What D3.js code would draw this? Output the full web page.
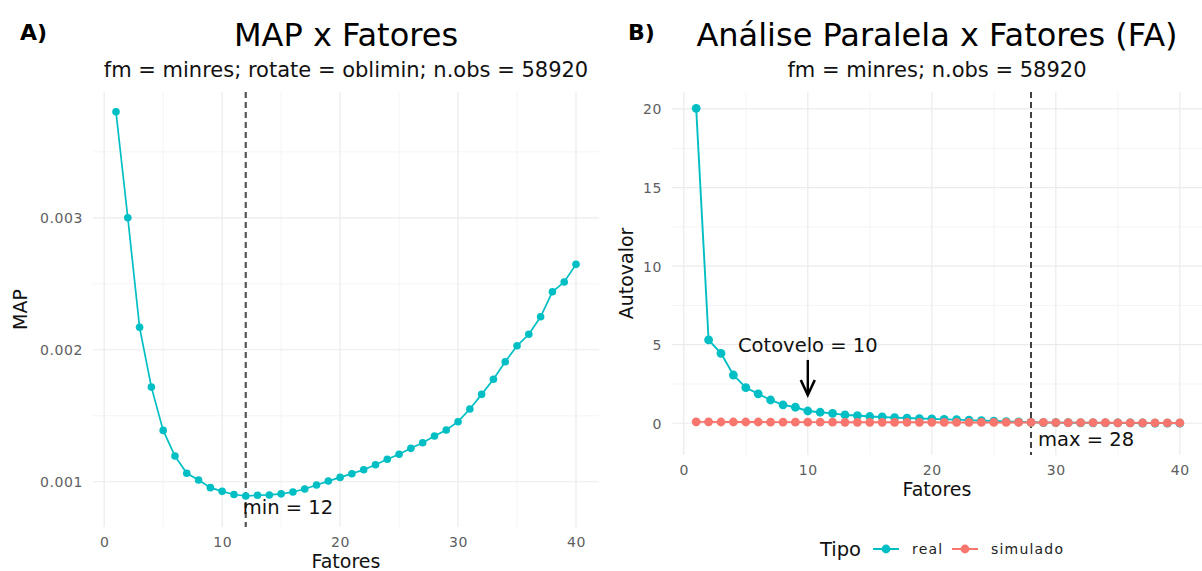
<!DOCTYPE html>
<html><head><meta charset="utf-8">
<script src="https://cdn.jsdelivr.net/npm/d3@7"></script>
<style>
body{margin:0;background:#fff;}
svg{display:block;font-family:"DejaVu Sans",sans-serif;}
</style></head>
<body><svg id="c" width="1202" height="571"></svg>
<script>
// ---------- DATA ----------
const fatores = d3.range(1, 41);
const mapValues = [0.003803,0.003000,0.002170,0.001717,0.001389,0.001195,0.001064,0.001013,0.000955,0.000927,
  0.000903,0.000892,0.000898,0.000900,0.000908,0.000922,0.000945,0.000975,0.001005,0.001033,
  0.001061,0.001091,0.001129,0.001170,0.001208,0.001253,0.001295,0.001346,0.001392,0.001455,
  0.001551,0.001662,0.001776,0.001909,0.002030,0.002117,0.002250,0.002439,0.002513,0.002647];
const realEigen = [20.04,5.30,4.45,3.07,2.27,1.87,1.48,1.17,1.02,0.78,
  0.70,0.63,0.53,0.49,0.43,0.40,0.36,0.33,0.30,0.28,
  0.25,0.23,0.20,0.17,0.14,0.11,0.09,0.06,0.045,0.04,
  0.035,0.03,0.03,0.025,0.02,0.02,0.015,0.01,0.01,0.005];
const simEigen = [0.09,0.09,0.08,0.08,0.08,0.08,0.07,0.07,0.07,0.07,
  0.07,0.07,0.06,0.06,0.06,0.06,0.06,0.06,0.06,0.06,
  0.05,0.05,0.05,0.05,0.05,0.05,0.05,0.05,0.05,0.045,
  0.04,0.04,0.035,0.035,0.03,0.03,0.025,0.025,0.02,0.02];
const xTicks = [0,10,20,30,40];
const xMinor = [5,15,25,35];
const mapTicks = [0.001,0.002,0.003];
const mapMinor = [0.0015,0.0025,0.0035];
const eigTicks = [0,5,10,15,20];
const eigMinor = [2.5,7.5,12.5,17.5];
const minFactor = 12, elbowFactor = 10, maxFactor = 28;
const legendLabels = ["real","simulado"];

const TEAL = "#00BFC4", RED = "#F8766D";
const svg = d3.select("#c");

function panel(cfg){
  const g = svg.append("g");
  const x = d3.scaleLinear().domain(cfg.xdom).range([cfg.left, cfg.right]);
  const y = d3.scaleLinear().domain(cfg.ydom).range([cfg.bottom, cfg.top]);
  const clipId = "clip" + cfg.id;
  svg.append("clipPath").attr("id", clipId).append("rect")
    .attr("x", cfg.left).attr("y", cfg.top).attr("width", cfg.right-cfg.left).attr("height", cfg.bottom-cfg.top);
  const grid = g.append("g").attr("clip-path", `url(#${clipId})`);
  grid.selectAll(".mx").data(xMinor).join("line").attr("x1", d=>x(d)).attr("x2", d=>x(d))
    .attr("y1", cfg.top).attr("y2", cfg.bottom).attr("stroke", "#F1F1F1").attr("stroke-width", 0.8);
  grid.selectAll(".my").data(cfg.yMinor).join("line").attr("y1", d=>y(d)).attr("y2", d=>y(d))
    .attr("x1", cfg.left).attr("x2", cfg.right).attr("stroke", "#F1F1F1").attr("stroke-width", 0.8);
  grid.selectAll(".Mx").data(xTicks).join("line").attr("x1", d=>x(d)).attr("x2", d=>x(d))
    .attr("y1", cfg.top).attr("y2", cfg.bottom).attr("stroke", "#EBEBEB").attr("stroke-width", 1.2);
  grid.selectAll(".My").data(cfg.yTicks).join("line").attr("y1", d=>y(d)).attr("y2", d=>y(d))
    .attr("x1", cfg.left).attr("x2", cfg.right).attr("stroke", "#EBEBEB").attr("stroke-width", 1.2);

  const xAxis = d3.axisBottom(x).tickValues(xTicks).tickSize(0).tickPadding(0).tickFormat(d3.format("d"));
  const xa = g.append("g").attr("transform", `translate(0,${cfg.bottom})`).call(xAxis);
  xa.select(".domain").remove();
  xa.selectAll("text").attr("dy", null).attr("y", 15).attr("dominant-baseline", "central")
    .attr("fill", "#5e5e5e").attr("font-size", 14).attr("letter-spacing", "0.6px")
    .attr("font-family", "DejaVu Sans");
  const yAxis = d3.axisLeft(y).tickValues(cfg.yTicks).tickSize(0).tickPadding(0).tickFormat(cfg.yfmt);
  const ya = g.append("g").attr("transform", `translate(${cfg.left-10},0)`).call(yAxis);
  ya.select(".domain").remove();
  ya.selectAll("text").attr("dy", null).attr("x", 0).attr("dominant-baseline", "central")
    .attr("fill", "#5e5e5e").attr("font-size", 14).attr("letter-spacing", "0.6px")
    .attr("font-family", "DejaVu Sans");

  const cx = cfg.center;
  g.append("text").attr("x", cx).attr("y", 46)
    .attr("text-anchor", "middle").attr("font-size", 32).attr("fill", "#000").text(cfg.title);
  g.append("text").attr("x", cx).attr("y", 77).attr("text-anchor", "middle")
    .attr("font-size", 21).attr("fill", "#111").text(cfg.subtitle);
  g.append("text").attr("x", cfg.tagX).attr("y", 40).attr("font-size", 22).attr("font-weight", "bold")
    .attr("fill", "#000").text(cfg.id + ")");
  g.append("text").attr("x", cx).attr("y", cfg.bottom + 41).attr("text-anchor", "middle")
    .attr("font-size", 19).attr("fill", "#111").text("Fatores");
  g.append("text").attr("transform", `translate(${cfg.yTitleX},${(cfg.top+cfg.bottom)/2}) rotate(-90)`)
    .attr("text-anchor", "middle").attr("dominant-baseline", "central")
    .attr("font-size", 19).attr("fill", "#111").text(cfg.ytitle);
  return {g, x, y};
}

// ---------- PANEL A ----------
const A = panel({id:"A", left:93, right:599, top:92, bottom:527, center:346,
  xdom:[-0.95, 41.95], ydom:[0.000657, 0.003953],
  yTicks:mapTicks, yMinor:mapMinor, yfmt:d3.format(".3f"),
  title:"MAP x Fatores", subtitle:"fm = minres; rotate = oblimin; n.obs = 58920",
  ytitle:"MAP", yTitleX:20, tagX:20});

A.g.append("line").attr("x1", A.x(minFactor)).attr("x2", A.x(minFactor))
  .attr("y1", 92).attr("y2", 527).attr("stroke", "#555").attr("stroke-width", 2.2)
  .attr("stroke-dasharray", "6,4");
const mapData = fatores.map((f,i)=>({f, v:mapValues[i]}));
A.g.append("path").datum(mapData)
  .attr("d", d3.line().x(d=>A.x(d.f)).y(d=>A.y(d.v)))
  .attr("fill", "none").attr("stroke", TEAL).attr("stroke-width", 1.7);
A.g.selectAll(".pA").data(mapData).join("circle")
  .attr("cx", d=>A.x(d.f)).attr("cy", d=>A.y(d.v)).attr("r", 3.8).attr("fill", TEAL);
A.g.append("text").attr("x", A.x(minFactor) - 3).attr("y", A.y(0.000807))
  .attr("dominant-baseline", "central").attr("font-size", 19.5).attr("fill", "#111")
  .text("min = " + minFactor);

// ---------- PANEL B ----------
const B = panel({id:"B", left:672, right:1204, top:92, bottom:455, center:937,
  xdom:[-0.95, 41.95], ydom:[-2.02, 21.08],
  yTicks:eigTicks, yMinor:eigMinor, yfmt:d3.format("d"),
  title:"Análise Paralela x Fatores (FA)", subtitle:"fm = minres; n.obs = 58920",
  ytitle:"Autovalor", yTitleX:626, tagX:628});

B.g.append("line").attr("x1", B.x(maxFactor)).attr("x2", B.x(maxFactor))
  .attr("y1", 92).attr("y2", 455).attr("stroke", "#222").attr("stroke-width", 1.7)
  .attr("stroke-dasharray", "6,4");

const realData = fatores.map((f,i)=>({f, v:realEigen[i]}));
const simData = fatores.map((f,i)=>({f, v:simEigen[i]}));
const lineB = d3.line().x(d=>B.x(d.f)).y(d=>B.y(d.v));
B.g.append("path").datum(realData).attr("d", lineB).attr("fill", "none")
  .attr("stroke", TEAL).attr("stroke-width", 1.9);
B.g.selectAll(".pR").data(realData).join("circle")
  .attr("cx", d=>B.x(d.f)).attr("cy", d=>B.y(d.v)).attr("r", 4.4).attr("fill", TEAL);
B.g.append("path").datum(simData).attr("d", lineB).attr("fill", "none")
  .attr("stroke", RED).attr("stroke-width", 1.9);
B.g.selectAll(".pS").data(simData).join("circle")
  .attr("cx", d=>B.x(d.f)).attr("cy", d=>B.y(d.v)).attr("r", 4.4).attr("fill", RED);

B.g.append("text").attr("x", B.x(elbowFactor)).attr("y", B.y(4.92))
  .attr("text-anchor", "middle").attr("dominant-baseline", "central")
  .attr("font-size", 19.5).attr("fill", "#111").text("Cotovelo = " + elbowFactor);
const ax = B.x(elbowFactor), ay1 = B.y(4.03), ay2 = B.y(1.8);
B.g.append("line").attr("x1", ax).attr("x2", ax).attr("y1", ay1).attr("y2", ay2)
  .attr("stroke", "#000").attr("stroke-width", 2.4);
B.g.append("path").attr("d", `M${ax-7},${ay2-15} L${ax},${ay2} L${ax+7},${ay2-15}`)
  .attr("fill", "none").attr("stroke", "#000").attr("stroke-width", 2.6);
B.g.append("text").attr("x", B.x(maxFactor) + 7).attr("y", B.y(-1.06))
  .attr("dominant-baseline", "central").attr("font-size", 19.5).attr("fill", "#111")
  .text("max = " + maxFactor);

// legend
const lg = svg.append("g");
const ly = 549;
lg.append("text").attr("x", 820).attr("y", ly).attr("dominant-baseline", "central")
  .attr("font-size", 19.5).attr("fill", "#111").text("Tipo");
const keyX = [873, 952];
const cols = [TEAL, RED];
legendLabels.forEach((lab, i) => {
  const k = keyX[i];
  lg.append("line").attr("x1", k).attr("x2", k+26).attr("y1", ly).attr("y2", ly)
    .attr("stroke", cols[i]).attr("stroke-width", 2);
  lg.append("circle").attr("cx", k+13).attr("cy", ly).attr("r", 4.4).attr("fill", cols[i]);
  lg.append("text").attr("x", k+39).attr("y", ly).attr("dominant-baseline", "central")
    .attr("font-size", 14).attr("letter-spacing", "1.2px").attr("fill", "#222").text(lab);
});
</script></body></html>
